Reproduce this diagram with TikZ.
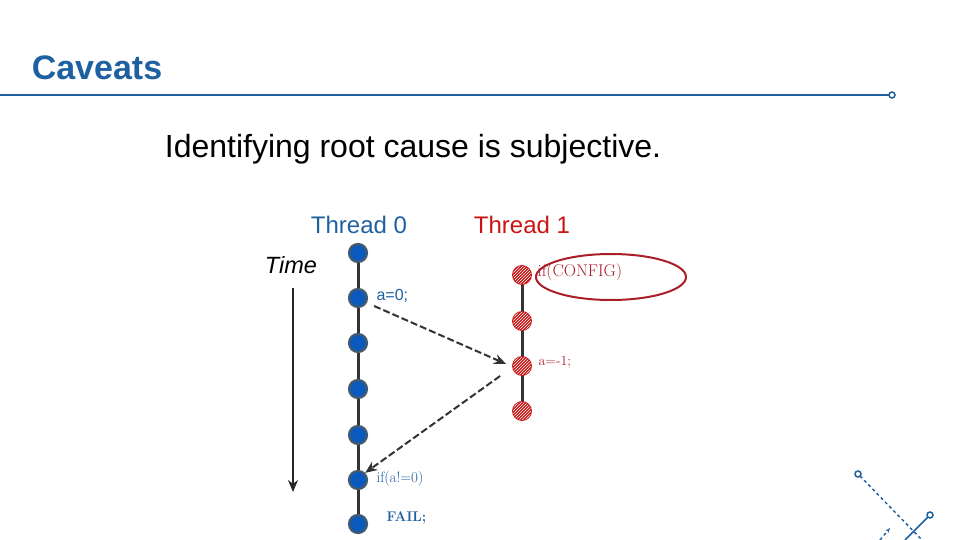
\documentclass[tikz,border=0pt]{standalone}
\usepackage{fontspec}
\setsansfont{Liberation Sans}
\usetikzlibrary{patterns,arrows.meta,shapes.geometric}
\definecolor{tblue}{RGB}{31,96,160}
\definecolor{nblue}{RGB}{10,90,190}
\definecolor{nring}{RGB}{70,90,110}
\definecolor{tred}{RGB}{200,20,20}
\definecolor{dred}{RGB}{170,30,40}
\begin{document}
\begin{tikzpicture}[x=1pt,y=-1pt,
 bn/.style={circle,draw=nring,line width=2.2pt,fill=nblue,minimum size=18pt,inner sep=0},
 rn/.style={circle,draw=tred,line width=1.8pt,fill=tred,postaction={pattern=north east lines,pattern color=white},minimum size=18pt,inner sep=0},
 msg/.style={dash pattern=on 7pt off 3pt,line width=2pt,draw=black!80,-{Stealth[length=12pt,width=10pt]}}]
\useasboundingbox (0,0) rectangle (960,540);
\node[font=\sffamily\bfseries\fontsize{34}{40}\selectfont,text=tblue] (title) at (97,68) {Caveats};
\draw[tblue,line width=2pt] (0,95) -- (889,95);
\draw[tblue,line width=1.5pt,fill=white] (892,95) circle (3);
\node[font=\sffamily\fontsize{32}{38}\selectfont] (sent) at (413,149) {Identifying root cause is subjective.};
\node[font=\sffamily\fontsize{24}{28}\selectfont,text=tblue] (t0) at (359,225) {Thread 0};
\node[font=\sffamily\fontsize{24}{28}\selectfont,text=tred] (t1) at (522,225) {Thread 1};
\node[font=\sffamily\itshape\fontsize{23.5}{28}\selectfont] (time) at (291,265) {Time};
\coordinate (ts) at (293,288); \coordinate (te) at (293,492);
\draw[line width=2.5pt,black!85,-{Stealth[length=12pt,width=10pt]}] (ts) -- (te);
\draw[line width=3pt,black!80] (358,253) -- (358,524);
\draw[line width=3pt,black!80] (522,275) -- (522,411);
\foreach \i/\y in {1/253,2/298,3/343,4/389,5/435,6/480,7/524}{\node[bn] (b\i) at (358,\y) {};}
\foreach \i/\y in {1/275,2/321,3/366,4/411}{\node[rn] (r\i) at (522,\y) {};}
\node[draw=dred,line width=2pt,ellipse,minimum width=150pt,minimum height=46pt] (ell) at (611,277) {};
\node[anchor=west,font=\sffamily\fontsize{16}{19}\selectfont,text=tblue] (l1) at (373,296) {a=0;};
\node[anchor=west,font=\fontsize{17}{20}\selectfont,text=dred] (l2) at (534,272) {if(CONFIG)};
\node[anchor=west,font=\fontsize{14}{17}\selectfont,text=dred] (l3) at (535,362) {a=-1;};
\node[anchor=west,font=\fontsize{15}{18}\selectfont,text=tblue] (l4) at (373,479) {if(a!=0)};
\node[anchor=west,font=\bfseries\fontsize{14}{17}\selectfont,text=tblue] (l5) at (383,518) {FAIL;};
\draw[msg] ([shift={(6,8)}]b2.east) -- ([shift={(-6,-2)}]r3.west);
\draw[msg] ([shift={(-12,10)}]r3.west) -- (b6.north east);
\draw[tblue,line width=1.5pt,dash pattern=on 3pt off 3pt] (860,476) -- (922,540);
\draw[tblue,line width=1.5pt,fill=white] (858,474) circle (3);
\draw[tblue,line width=1.5pt] (928,517) -- (905,540);
\draw[tblue,line width=1.5pt,fill=white] (930,515) circle (3);
\draw[tblue,line width=1.5pt,dash pattern=on 3pt off 3pt,-{Stealth[length=5pt]}] (880,540) -- (890,528);
\end{tikzpicture}
\end{document}
